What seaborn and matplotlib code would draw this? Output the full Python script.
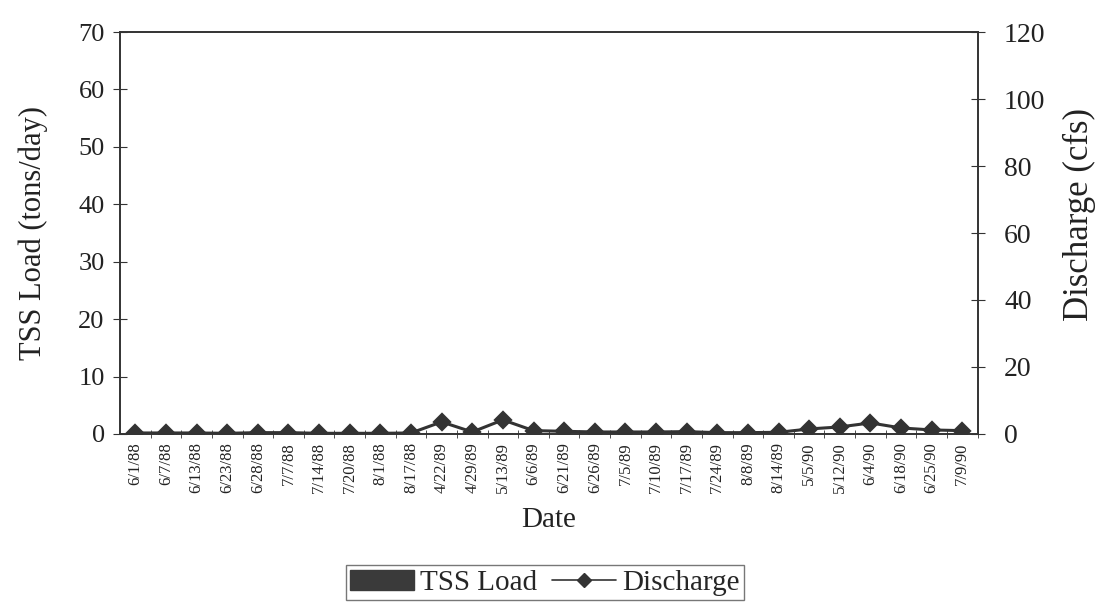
import numpy as np
import pandas as pd
import matplotlib
matplotlib.use("Agg")
import matplotlib.pyplot as plt
from matplotlib.patches import Patch
from matplotlib.lines import Line2D
import seaborn as sns

sns.set_theme(style="white")
plt.rcParams['font.family'] = ['Liberation Serif', 'DejaVu Serif']

# values
dates = ['6/1/88', '6/7/88', '6/13/88', '6/23/88', '6/28/88', '7/7/88', '7/14/88',
         '7/20/88', '8/1/88', '8/17/88', '4/22/89', '4/29/89', '5/13/89', '6/6/89',
         '6/21/89', '6/26/89', '7/5/89', '7/10/89', '7/17/89', '7/24/89', '8/8/89',
         '8/14/89', '5/5/90', '5/12/90', '6/4/90', '6/18/90', '6/25/90', '7/9/90']
tss_load = [0.05, 0.05, 0.05, 0.05, 0.05, 0.05, 0.05, 0.05, 0.05, 0.05, 0.3, 0.1,
            0.35, 0.1, 0.1, 0.1, 0.1, 0.1, 0.1, 0.1, 0.1, 0.1, 0.2, 0.25, 0.3,
            0.2, 0.1, 0.1]
discharge = [0.3, 0.3, 0.3, 0.2, 0.4, 0.4, 0.2, 0.2, 0.2, 0.3, 3.6, 0.6, 4.2, 1.0,
             0.8, 0.6, 0.6, 0.6, 0.7, 0.4, 0.4, 0.5, 1.5, 2.1, 3.3, 1.8, 1.2, 1.0]

df = pd.DataFrame({'Date': dates, 'TSS': tss_load, 'Discharge': discharge})

fig = plt.figure(figsize=(10.96, 6.09), dpi=100)
ax = fig.add_axes([0.1095, 0.2874, 0.7825, 0.660])

dark = '#333333'
txt = '#222222'

# TSS load bars (left axis)
sns.barplot(data=df, x='Date', y='TSS', color='#3a3a3a', ax=ax, width=0.6,
            saturation=1)
ax.set_ylim(0, 70)
ax.set_yticks(np.arange(0, 71, 10))

# discharge line (right axis)
ax2 = ax.twinx()
sns.pointplot(data=df, x='Date', y='Discharge', ax=ax2, color=dark,
              markers='D', linestyles='-', markersize=8.5, linewidth=2.2)
ax2.set_ylim(0, 120)
ax2.set_yticks(np.arange(0, 121, 20))
ax.set_xlim(-0.5, len(dates) - 0.5)

for a in (ax, ax2):
    for s in a.spines.values():
        s.set_color(dark)
        s.set_linewidth(1.2)
    a.grid(False)

ax.tick_params(axis='y', direction='inout', length=10, width=0.8, color=dark,
               labelsize=19, labelcolor=txt, pad=6)
ax2.tick_params(axis='y', direction='inout', length=10, width=0.8, color=dark,
                labelsize=20, labelcolor=txt, pad=14)
ax.set_xticks(np.arange(len(dates)))
ax.set_xticklabels(dates, rotation=90, fontsize=12, color=txt)
ax.set_xticks(np.arange(len(dates)) + 0.5, minor=True)
ax.tick_params(axis='x', which='major', length=0, pad=6)
ax.tick_params(axis='x', which='minor', direction='inout', length=6, width=0.6,
               color=dark, bottom=True)

ax.set_xlabel('Date', fontsize=21, color=txt, labelpad=10)
ax.set_ylabel('TSS Load (tons/day)', fontsize=22, color=txt, labelpad=22)
ax2.set_ylabel('Discharge (cfs)', fontsize=25, color=txt)
ax2.yaxis.set_label_coords(1.099, 0.545)

handles = [Patch(facecolor='#3a3a3a', edgecolor='#3a3a3a'),
           Line2D([0], [0], color=dark, marker='D', markersize=7, linewidth=1.2)]
leg = fig.legend(handles, ['TSS Load', 'Discharge'], loc='center',
                 bbox_to_anchor=(0.497, 0.043), ncol=2, fontsize=21, frameon=True,
                 fancybox=False, edgecolor='#555555', handlelength=2.2,
                 handletextpad=0.2, columnspacing=0.5, borderpad=0.15)
leg.get_frame().set_linewidth(1.0)

fig.savefig('out.png', dpi=100)
